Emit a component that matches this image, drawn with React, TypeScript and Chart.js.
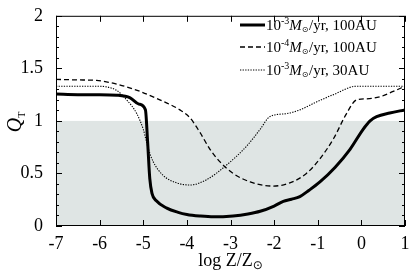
import React, { useEffect, useRef } from "react";
import { Chart, registerables } from "chart.js";

Chart.register(...registerables);

const solidX = [-7, -6.5, -6, -5.6, -5.3, -5.1, -4.95, -4.9, -4.85, -4.8, -4.7, -4.46, -4.2, -4.0, -3.7, -3.39, -2.94, -2.6, -2.32, -2.0, -1.79, -1.6, -1.41, -1.2, -0.95, -0.6, -0.26, 0.04, 0.2, 0.35, 0.65, 1.0];
const solidY = [1.255, 1.25, 1.25, 1.245, 1.22, 1.16, 1.105, 0.8, 0.45, 0.31, 0.24, 0.17, 0.13, 0.11, 0.095, 0.087, 0.096, 0.115, 0.14, 0.19, 0.235, 0.255, 0.28, 0.34, 0.42, 0.56, 0.73, 0.92, 1.0, 1.04, 1.075, 1.105];

const dashX = [-7, -6.5, -6.07, -5.61, -5.07, -4.62, -4.16, -3.93, -3.7, -3.47, -3.24, -2.94, -2.55, -2.02, -1.64, -1.26, -0.95, -0.64, -0.34, -0.11, 0.12, 0.43, 0.73, 1.0];
const dashY = [1.395, 1.39, 1.385, 1.35, 1.28, 1.2, 1.105, 1.03, 0.89, 0.73, 0.61, 0.5, 0.42, 0.38, 0.41, 0.5, 0.64, 0.83, 1.07, 1.2, 1.21, 1.23, 1.28, 1.33];

const dotX = [-7, -6.5, -6.07, -5.61, -5.38, -5.15, -5.0, -4.88, -4.77, -4.54, -4.23, -3.93, -3.55, -3.09, -2.63, -2.32, -2.1, -1.71, -1.41, -1.03, -0.64, -0.11, 0.5, 1.0];
const dotY = [1.33, 1.33, 1.33, 1.29, 1.2, 1.07, 0.92, 0.73, 0.61, 0.48, 0.41, 0.39, 0.44, 0.58, 0.76, 0.92, 1.04, 1.07, 1.105, 1.18, 1.25, 1.33, 1.33, 1.33];

const legendLabels = [
  { exp: "-3", rest: "/yr, 100AU" },
  { exp: "-4", rest: "/yr, 100AU" },
  { exp: "-3", rest: "/yr, 30AU" },
];

const xTicks = [-7, -6, -5, -4, -3, -2, -1, 0, 1];
const xTickLabels = ["-7", "-6", "-5", "-4", "-3", "-2", "-1", "0", "1"];
const yTicks = [0, 0.5, 1, 1.5, 2];
const yTickLabels = ["0", "0.5", "1", "1.5", "2"];
const shadeTop = 1;

const SERIF = "'Liberation Serif', 'DejaVu Serif', serif";
Chart.defaults.font.family = SERIF;

const toPts = (xs: number[], ys: number[]) => xs.map((x, i) => ({ x, y: ys[i] }));

const styles = [
  { width: 3, dash: [] as number[] },
  { width: 1.3, dash: [5, 3] },
  { width: 1.1, dash: [1.3, 1.3] },
];

const decorPlugin = {
  id: "decor",
  beforeDatasetsDraw(chart: any) {
    const { ctx, chartArea: a, scales } = chart;
    const yTop = scales.y.getPixelForValue(shadeTop);
    ctx.save();
    ctx.fillStyle = "#dfe5e4";
    ctx.fillRect(a.left, yTop, a.right - a.left, a.bottom - yTop);
    ctx.restore();
  },
  afterDraw(chart: any) {
    const { ctx, chartArea: a, scales } = chart;
    ctx.save();
    ctx.strokeStyle = "#000";
    ctx.lineWidth = 1;
    ctx.setLineDash([]);
    ctx.strokeRect(a.left + 0.5, a.top + 0.5, a.right - a.left - 1, a.bottom - a.top - 1);
    ctx.beginPath();
    for (const v of xTicks) {
      const px = Math.round(scales.x.getPixelForValue(v)) + 0.5;
      ctx.moveTo(px, a.bottom);
      ctx.lineTo(px, a.bottom - 6);
      ctx.moveTo(px, a.top);
      ctx.lineTo(px, a.top + 6);
    }
    for (let i = 0; i <= 20; i++) {
      const v = i / 10;
      const py = Math.round(scales.y.getPixelForValue(v)) + 0.5;
      const len = i % 5 === 0 ? 6 : 3;
      ctx.moveTo(a.left, py);
      ctx.lineTo(a.left + len, py);
      ctx.moveTo(a.right, py);
      ctx.lineTo(a.right - len, py);
    }
    ctx.stroke();

    // legend
    const rows = [25, 47, 70];
    ctx.fillStyle = "#000";
    ctx.textBaseline = "alphabetic";
    legendLabels.forEach((lab, i) => {
      const st = styles[i];
      const cy = rows[i];
      ctx.beginPath();
      ctx.lineWidth = st.width;
      ctx.setLineDash(st.dash);
      ctx.moveTo(240, cy);
      ctx.lineTo(265, cy);
      ctx.stroke();
      ctx.setLineDash([]);
      let x = 266;
      const base = cy + 5;
      ctx.font = `15px ${SERIF}`;
      ctx.fillText("10", x, base);
      x += ctx.measureText("10").width;
      ctx.font = `10px ${SERIF}`;
      ctx.fillText(lab.exp, x, base - 6);
      x += ctx.measureText(lab.exp).width;
      ctx.font = `italic 15px ${SERIF}`;
      ctx.fillText("M", x, base);
      x += ctx.measureText("M").width;
      ctx.font = `8px 'DejaVu Sans', sans-serif`;
      ctx.fillText("\u2299", x, base + 2);
      x += ctx.measureText("\u2299").width + 0.5;
      ctx.font = `15px ${SERIF}`;
      ctx.fillText(lab.rest, x, base);
    });

    // x title
    ctx.font = `18px ${SERIF}`;
    const t1 = "log Z/Z";
    const w1 = ctx.measureText(t1).width;
    ctx.font = `12px 'DejaVu Sans', sans-serif`;
    const w2 = ctx.measureText("\u2299").width;
    const cx = (a.left + a.right) / 2;
    const sx = cx - (w1 + w2) / 2;
    ctx.font = `18px ${SERIF}`;
    ctx.fillText(t1, sx, 266);
    ctx.font = `12px 'DejaVu Sans', sans-serif`;
    ctx.fillText("\u2299", sx + w1, 269);

    // y title
    ctx.save();
    ctx.translate(21, (a.top + a.bottom) / 2 + 1);
    ctx.rotate(-Math.PI / 2);
    ctx.font = `italic 20px ${SERIF}`;
    const qw = ctx.measureText("Q").width;
    ctx.font = `10px ${SERIF}`;
    const tw = ctx.measureText("T").width;
    const qx = -(qw + tw) / 2;
    ctx.font = `italic 20px ${SERIF}`;
    ctx.fillText("Q", qx, 0);
    ctx.font = `10px ${SERIF}`;
    ctx.fillText("T", qx + qw, 4);
    ctx.restore();

    ctx.restore();
  },
};

export default function App() {
  const ref = useRef<HTMLCanvasElement | null>(null);
  useEffect(() => {
    if (!ref.current) return;
    const series = [toPts(solidX, solidY), toPts(dashX, dashY), toPts(dotX, dotY)];
    const chart = new Chart(ref.current, {
      type: "line",
      data: {
        datasets: series.map((d, i) => ({
          data: d,
          borderColor: "#000",
          borderWidth: styles[i].width,
          borderDash: styles[i].dash,
          pointRadius: 0,
          fill: false,
          cubicInterpolationMode: "monotone",
        })),
      },
      options: {
        animation: false,
        responsive: false,
        maintainAspectRatio: false,
        layout: { padding: { top: 11, right: 4, left: 0, bottom: 0 } },
        plugins: { legend: { display: false }, tooltip: { enabled: false } },
        scales: {
          x: {
            type: "linear",
            min: -7,
            max: 1,
            afterBuildTicks: (s: any) => {
              s.ticks = xTicks.map((v) => ({ value: v }));
            },
            afterFit: (s: any) => {
              s.height = 46;
            },
            grid: { display: false },
            border: { display: false },
            ticks: {
              color: "#000",
              font: { family: SERIF, size: 18 },
              padding: -1,
              maxRotation: 0,
              autoSkip: false,
              callback: (v: any) => {
                const i = xTicks.indexOf(Number(v));
                return i >= 0 ? xTickLabels[i] : "";
              },
            },
          },
          y: {
            type: "linear",
            min: 0,
            max: 2,
            afterBuildTicks: (s: any) => {
              s.ticks = yTicks.map((v) => ({ value: v }));
            },
            afterFit: (s: any) => {
              s.width = 56;
            },
            grid: { display: false },
            border: { display: false },
            ticks: {
              color: "#000",
              font: { family: SERIF, size: 18 },
              padding: 5,
              callback: (v: any) => {
                const i = yTicks.indexOf(Number(v));
                return i >= 0 ? yTickLabels[i] : "";
              },
            },
          },
        },
      },
      plugins: [decorPlugin],
    } as any);
    return () => chart.destroy();
  }, []);
  return (
    <div style={{ position: "fixed", left: 0, top: 0, width: 409, height: 272, background: "#fff" }}>
      <canvas ref={ref} width={409} height={272} style={{ width: 409, height: 272 }} />
    </div>
  );
}
